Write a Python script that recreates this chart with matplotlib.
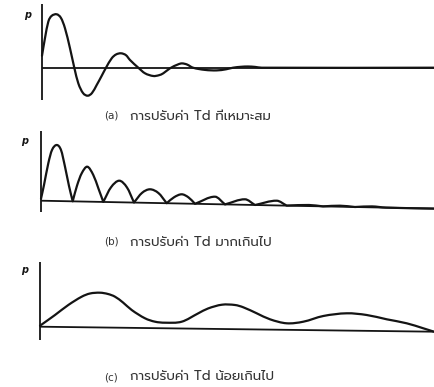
import matplotlib
matplotlib.use("Agg")
import matplotlib.pyplot as plt
from matplotlib import font_manager
from matplotlib.path import Path
from matplotlib.patches import PathPatch

# --- data (t = distance from p axis, p = height above baseline) ---

# (a) proper Td: damped oscillation about the baseline
t_a = [0, 3, 6.3, 9.5, 14.7, 19, 23, 28, 32.3, 36.3, 41, 45.7, 50, 54.7, 59.5, 64,
       69.7, 74, 79, 84, 88, 96.3, 103, 111.3, 117, 121.3, 128, 136.3, 140, 145,
       151, 163, 174.7, 184, 191, 199, 206, 213, 219.7, 392]
p_a = [12, 29.7, 46, 51.7, 53.4, 49.7, 39.4, 19.4, 0, -15.6, -25.3, -28, -25.3, -17.3, -8.5, 0,
       9.4, 13.2, 14.4, 12.5, 7.7, 0, -5.6, -8.3, -7.5, -5.6, -0.6, 3.4, 4.3, 3.2,
       0, -2.2, -2.7, -1.6, 0, 0.9, 1.2, 0.8, 0, 0]
axis_a = (63.7, -32.3)
base_a = (0, 0)

# (b) Td too large: rectified bumps on a slightly tilted baseline
t_b = [0, 3, 7.3, 11, 15.7, 20, 24, 28, 31.7,
       36, 40.7, 46.3, 52.3, 57.5, 62.3,
       70, 78.3, 86, 93,
       101, 109, 117.5, 125.7,
       133, 140.7, 147.5, 154,
       174, 184, 204, 214, 235.7, 245.7,
       268, 282, 299, 314, 331, 345, 393]
p_b = [2, 15.7, 37.4, 50.7, 55.7, 50.7, 34, 14.7, -0.6,
       15, 27.4, 34, 25.7, 12, -1.2,
       13.4, 20, 13.2, -1.8,
       7.8, 11.4, 7.6, -2.5,
       3.4, 6.4, 3.3, -3.1,
       4, -3.7, 1.4, -4.3, 0, -4.9,
       -4.3, -5.7, -5.0, -6.3, -5.7, -6.9, -7.9]
axis_b = (69.7, -11.3)
base_b = (0, -7.9)

# (c) Td too small: slow oscillation above the baseline
t_c = [0, 15, 28.3, 41.7, 50, 60, 68, 75, 83, 91.7, 105, 115, 125, 141.7, 158.3, 168,
       182, 195, 203.3, 216.7, 230, 246.7, 263.3, 283.3, 306.7, 326.7, 346.7, 366.7,
       383.3, 394]
p_c = [1, 11.7, 21.7, 30, 33.2, 34, 32.7, 30, 24.2, 16.7, 8.4, 5, 4, 5, 13.4, 18.2,
       22, 21.7, 19.4, 13.4, 7.4, 3.4, 5, 10.7, 13.4, 11.7, 7.4, 3.4,
       -1.6, -5]
axis_c = (65, -13.3)
base_c = (0, -5)

labels = ["(a)", "(b)", "(c)"]
captions = [
    "การปรับค่า Td ที่เหมาะสม",
    "การปรับค่า Td มากเกินไป",
    "การปรับค่า Td น้อยเกินไป",
]

names = {f.name for f in font_manager.fontManager.ttflist}
thai_font = next((n for n in ["Prompt", "Noto Sans Thai", "Kanit", "Sarabun"]
                  if n in names), "DejaVu Sans")
FONT = [thai_font, "DejaVu Sans"]

W, H = 434, 387
ink = "#141414"


def smooth_path(t, p, cusps=False):
    """Piecewise cubic through the read points (t is monotonic), as a bezier path."""
    n = len(t)
    sec = [(p[i + 1] - p[i]) / (t[i + 1] - t[i]) for i in range(n - 1)]
    m_in, m_out = [0.0] * n, [0.0] * n
    for i in range(n):
        if i == 0:
            m_in[i] = m_out[i] = sec[0]
        elif i == n - 1:
            m_in[i] = m_out[i] = sec[-1]
        elif cusps and p[i] < p[i - 1] and p[i] < p[i + 1]:
            m_in[i], m_out[i] = sec[i - 1], sec[i]
        else:
            m = (p[i + 1] - p[i - 1]) / (t[i + 1] - t[i - 1])
            m_in[i] = m_out[i] = m
    verts, codes = [(t[0], p[0])], [Path.MOVETO]
    for i in range(n - 1):
        h = (t[i + 1] - t[i]) / 3
        verts += [(t[i] + h, p[i] + m_out[i] * h),
                  (t[i + 1] - h, p[i + 1] - m_in[i + 1] * h),
                  (t[i + 1], p[i + 1])]
        codes += [Path.CURVE4] * 3
    return Path(verts, codes)


# panel geometry in image pixels: origin x, baseline y, band top, band bottom,
# p-label pos, caption y
panels = [
    (t_a, p_a, axis_a, base_a, False, 42, 67.7, 0, 125, (28, 15), 116),
    (t_b, p_b, axis_b, base_b, True, 41, 200.7, 125, 250, (25, 141), 242),
    (t_c, p_c, axis_c, base_c, False, 40, 326.7, 250, 387, (25, 270), 377),
]

fig = plt.figure(figsize=(W / 100, H / 100), dpi=100)
for (t, p, ax_span, base, cusps, x0, yb, top, bot, plab, cap_y), lab, cap in zip(
        panels, labels, captions):
    ax = fig.add_axes([0, 1 - bot / H, 1, (bot - top) / H])
    ax.set_xlim(-x0, W - x0)
    ax.set_ylim(yb - bot, yb - top)
    ax.axis("off")
    ax.plot([0, 0], list(ax_span), color=ink, lw=1.3, solid_capstyle="butt")
    ax.plot([0, W - x0], list(base), color=ink, lw=1.3, solid_capstyle="butt")
    ax.add_patch(PathPatch(smooth_path(t, p, cusps), facecolor="none", edgecolor=ink,
                           lw=1.6, joinstyle="round", capstyle="round"))
    ax.text(plab[0] - x0, yb - plab[1], "p", fontsize=7, fontstyle="italic",
            fontweight="bold", family="DejaVu Sans", ha="center", va="center", color=ink)
    ax.text(104 - x0, yb - cap_y, lab, fontsize=7.5, family="DejaVu Sans", ha="left",
            va="center", color="#333333")
    ax.text(130 - x0, yb - cap_y, cap, fontsize=9.5, family=FONT, ha="left",
            va="center", color="#333333")

fig.savefig("out.png", dpi=100)
